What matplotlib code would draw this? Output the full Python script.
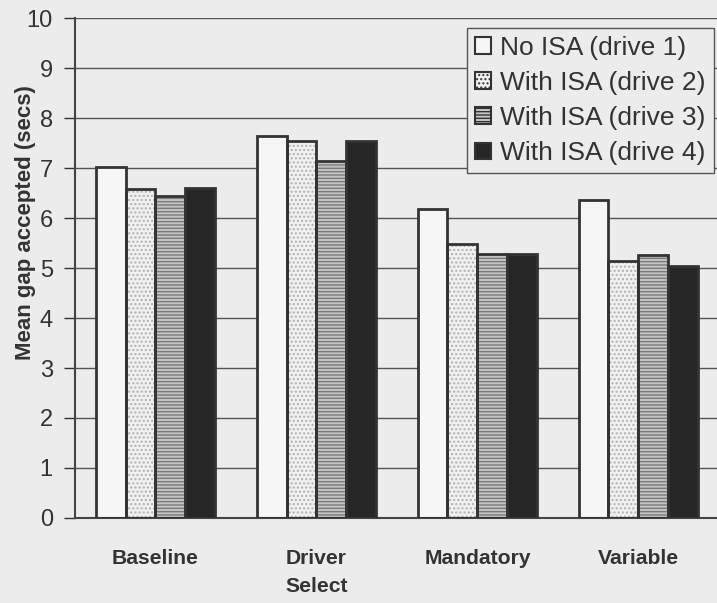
import numpy as np
import matplotlib.pyplot as plt
from matplotlib.patches import Patch

plt.rcParams['font.family'] = ['Liberation Sans', 'DejaVu Sans']

categories = ['Baseline', 'Driver\nSelect', 'Mandatory', 'Variable']
series_names = ['No ISA (drive 1)', 'With ISA (drive 2)', 'With ISA (drive 3)', 'With ISA (drive 4)']
drive1 = [7.02, 7.65, 6.18, 6.37]
drive2 = [6.58, 7.55, 5.48, 5.15]
drive3 = [6.45, 7.15, 5.28, 5.27]
drive4 = [6.60, 7.55, 5.28, 5.05]
y_ticks = list(range(0, 11))

bg = '#ececec'
ink = '#333333'
styles = [
    dict(face='#f6f6f6', hatch=None, hcol='#f6f6f6'),
    dict(face='#f0f0f0', hatch='....', hcol='#b0b0b0'),
    dict(face='#c4c4c4', hatch='-----', hcol='#7a7a7a'),
    dict(face='#262626', hatch=None, hcol='#262626'),
]

fig = plt.figure(figsize=(7.17, 6.03), dpi=100, facecolor=bg)
ax = fig.add_axes([0.1046, 0.141, 0.898, 0.829], facecolor=bg)

x = np.arange(len(categories))
w = 0.186
offsets = (np.arange(4) - 1.5) * w
for vals, off, st in zip([drive1, drive2, drive3, drive4], offsets, styles):
    # filled / hatched body, then the dark outline on top
    ax.bar(x + off, vals, w, color=st['face'], edgecolor=st['hcol'],
           hatch=st['hatch'], linewidth=0, zorder=2)
    ax.bar(x + off, vals, w, fill=False, edgecolor=ink, linewidth=2, zorder=3)

ax.set_xlim(-0.5, 3.5)
ax.set_ylim(0, 10)
ax.set_yticks(y_ticks)
ax.yaxis.grid(True, color='#555555', linewidth=1)
ax.set_axisbelow(True)
ax.set_xticks(x)
ax.set_xticklabels(categories, fontsize=15.2, fontweight='bold', color=ink,
                   linespacing=1.6)
ax.tick_params(axis='x', length=0, pad=22)
ax.tick_params(axis='y', labelsize=17, colors=ink, length=8, width=1,
               direction='out', pad=8)
for lab in ax.get_yticklabels():
    lab.set_color(ink)
ax.set_ylabel('Mean gap accepted (secs)', fontsize=16, fontweight='bold',
              color=ink)
ax.yaxis.set_label_coords(-0.06, 0.59)
for s in ['top', 'right']:
    ax.spines[s].set_visible(False)
for s in ['left', 'bottom']:
    ax.spines[s].set_color('#444444')
    ax.spines[s].set_linewidth(1.5)

handles = [Patch(facecolor=st['face'], edgecolor=ink, hatch=st['hatch'], linewidth=1.5)
           for st in styles]
leg = ax.legend(handles, series_names, loc='upper left', bbox_to_anchor=(0.609, 0.98),
                fontsize=19, frameon=True, fancybox=False, handlelength=0.6,
                handleheight=0.6, handletextpad=0.35, borderpad=0.3,
                labelspacing=0.42, borderaxespad=0)
leg.get_frame().set_facecolor(bg)
leg.get_frame().set_edgecolor('#555555')
leg.get_frame().set_alpha(1)
for t in leg.get_texts():
    t.set_color(ink)

fig.savefig('out.png', dpi=100, facecolor=bg)
